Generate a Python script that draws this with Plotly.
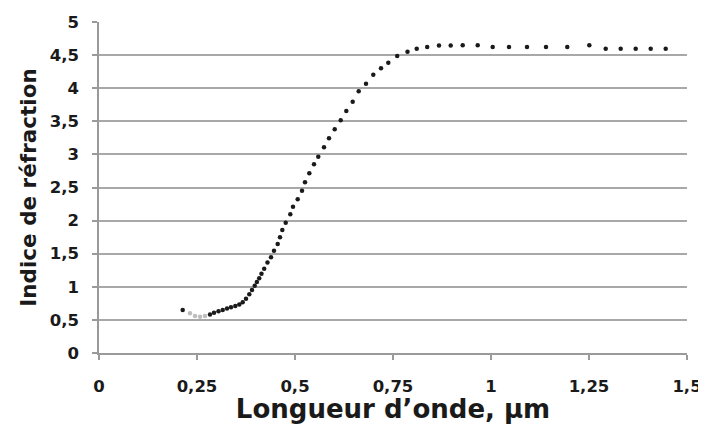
import plotly.graph_objects as go

# Wavelength (µm) and refractive index
wavelength = [0.2135, 0.2321, 0.2449, 0.2577, 0.2704, 0.2832, 0.2934, 0.3048, 0.3156, 0.3265,
              0.3367, 0.3477, 0.3579, 0.3666, 0.3750, 0.3834, 0.3903, 0.3972, 0.4028, 0.4087,
              0.4145, 0.4214, 0.4298, 0.4388, 0.4464, 0.4559, 0.4617, 0.4676, 0.4763, 0.4880,
              0.4949, 0.5069, 0.5179, 0.5255, 0.5365, 0.5485, 0.5594, 0.5740, 0.5867, 0.6013,
              0.6166, 0.6309, 0.6472, 0.6625, 0.6811, 0.6997, 0.7194, 0.7380, 0.7607, 0.7870,
              0.8105, 0.8372, 0.8673, 0.8972, 0.9278, 0.9661, 1.0043, 1.0459, 1.0918, 1.1403,
              1.1946, 1.2508, 1.2926, 1.3309, 1.3691, 1.4074, 1.4457]
index_n = [0.650, 0.600, 0.559, 0.548, 0.559, 0.582, 0.609, 0.630, 0.650, 0.671,
           0.690, 0.710, 0.733, 0.766, 0.819, 0.887, 0.952, 1.017, 1.073, 1.130,
           1.198, 1.272, 1.367, 1.446, 1.545, 1.647, 1.748, 1.858, 1.968, 2.095,
           2.210, 2.322, 2.452, 2.579, 2.715, 2.850, 2.965, 3.107, 3.243, 3.379,
           3.515, 3.656, 3.796, 3.953, 4.068, 4.204, 4.301, 4.385, 4.486, 4.551,
           4.595, 4.622, 4.644, 4.644, 4.648, 4.648, 4.622, 4.622, 4.622, 4.622,
           4.622, 4.648, 4.597, 4.597, 4.597, 4.597, 4.597]

x_tickvals = [0, 0.25, 0.5, 0.75, 1, 1.25, 1.5]
x_ticktext = ["0", "0,25", "0,5", "0,75", "1", "1,25", "1,5"]
y_tickvals = [0, 0.5, 1, 1.5, 2, 2.5, 3, 3.5, 4, 4.5, 5]
y_ticktext = ["0", "0,5", "1", "1,5", "2", "2,5", "3", "3,5", "4", "4,5", "5"]

colors = ["#1a1a1a" if (i < 1 or i > 4) else "#bdbdbd" for i in range(len(wavelength))]

fig = go.Figure()
fig.add_trace(go.Scatter(
    x=wavelength, y=index_n, mode="markers",
    marker=dict(size=4.5, color=colors, line=dict(width=0)),
    showlegend=False, hoverinfo="x+y"))

font_family = "'DejaVu Sans', sans-serif"
fig.update_layout(
    width=698, height=416,
    margin=dict(l=91, r=19, t=14, b=71),
    plot_bgcolor="white", paper_bgcolor="white",
    font=dict(family=font_family, color="#1a1a1a"),
    xaxis=dict(
        range=[0, 1.5], tickvals=x_tickvals, ticktext=x_ticktext,
        automargin=False,
        showgrid=False, zeroline=False,
        showline=True, linecolor="#9a9a9a", linewidth=1.5,
        ticks="outside", ticklen=5, tickcolor="#9a9a9a", tickwidth=1.5,
        tickfont=dict(size=16.5, family=font_family, weight="bold", color="#1a1a1a"),
        ticklabelstandoff=12,
        title=dict(text="Longueur d’onde, µm", standoff=8,
                   font=dict(size=26, family=font_family, weight="bold", color="#1a1a1a")),
    ),
    yaxis=dict(
        range=[0, 5], tickvals=y_tickvals, ticktext=y_ticktext,
        automargin=False,
        showgrid=True, gridcolor="#a8a8a8", gridwidth=1.5, zeroline=False,
        showline=True, linecolor="#9a9a9a", linewidth=1.5,
        ticks="outside", ticklen=5, tickcolor="#9a9a9a", tickwidth=1.5,
        tickfont=dict(size=16.5, family=font_family, weight="bold", color="#1a1a1a"),
        ticklabelstandoff=10,
        title=dict(text="Indice de réfraction", standoff=7,
                   font=dict(size=21.5, family=font_family, weight="bold", color="#1a1a1a")),
    ),
)

fig.write_html("out.html")
